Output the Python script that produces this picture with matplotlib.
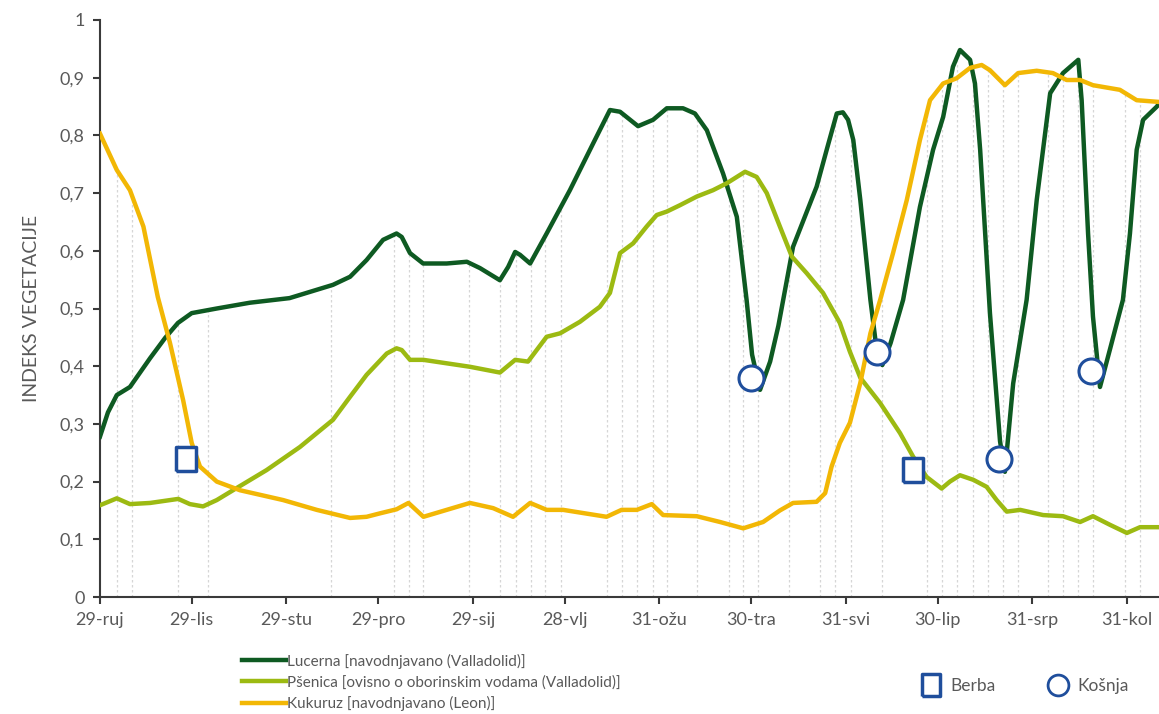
import numpy as np
import matplotlib
matplotlib.use("Agg")
import matplotlib.pyplot as plt
from matplotlib.lines import Line2D

plt.rcParams['font.family'] = ['Lato', 'DejaVu Sans']

# x in days since 29 Sep
tick_days = [0, 30, 61, 91, 122, 152, 183, 213, 244, 274, 305, 336]
tick_labels = ['29-ruj', '29-lis', '29-stu', '29-pro', '29-sij', '28-vlj',
               '31-ožu', '30-tra', '31-svi', '30-lip', '31-srp', '31-kol']

# Dates of observations (drop lines)
obs_days = [5.5, 10.6, 25.6, 35.4, 75.6, 96.2, 101.1, 105.8, 120.8, 130.8, 136.0,
            140.9, 145.6, 150.9, 165.7, 170.6, 175.8, 180.8, 185.4, 195.2, 205.9,
            210.4, 215.3, 225.5, 235.5, 240.4, 245.6, 255.7, 270.4, 275.3, 280.4,
            285.7, 290.6, 295.5, 300.4, 310.2, 315.1, 320.0, 324.9, 335.3, 340.2]

lucerna_x = [0, 2.6, 5.5, 9.8, 16.4, 21.3, 25.5, 30, 38.2, 49, 62, 76.2, 81.8, 87.2,
             92.6, 97, 98.7, 101.4, 105.7, 113.4, 120, 124.3, 130.8, 133.5, 135.8,
             137.4, 140.7, 146.1, 153.7, 161.3, 166.8, 170.1, 176, 180.9, 185.4,
             190.7, 194.6, 198.5, 203.8, 208.3, 211.5, 213.3, 215.9, 219.2, 221.9,
             226.7, 234.4, 237.7, 241, 243, 244.7, 246.4, 248.7, 252, 254, 255.9,
             258.6, 262.7, 268.2, 272.5, 275.8, 279, 281.3, 284.6, 286.2, 287.9,
             291.1, 294.4, 296, 298.7, 303.1, 306.4, 310.8, 315, 320, 321.1, 323.2,
             324.8, 327.1, 330.4, 334.6, 336.9, 339.1, 341.2, 345.7, 346.4]
lucerna_y = [0.278, 0.32, 0.35, 0.364, 0.414, 0.449, 0.475, 0.492, 0.50, 0.51, 0.518,
             0.541, 0.555, 0.584, 0.619, 0.630, 0.624, 0.596, 0.578, 0.578, 0.581,
             0.570, 0.549, 0.572, 0.598, 0.593, 0.578, 0.630, 0.705, 0.786, 0.844,
             0.841, 0.816, 0.827, 0.847, 0.847, 0.838, 0.809, 0.734, 0.659, 0.515,
             0.42, 0.359, 0.408, 0.47, 0.607, 0.711, 0.775, 0.838, 0.840, 0.827,
             0.792, 0.688, 0.515, 0.43, 0.402, 0.44, 0.515, 0.676, 0.775, 0.832,
             0.919, 0.948, 0.931, 0.890, 0.775, 0.492, 0.27, 0.217, 0.37, 0.515,
             0.688, 0.873, 0.908, 0.931, 0.861, 0.630, 0.486, 0.364, 0.43, 0.515,
             0.630, 0.775, 0.827, 0.850, 0.855]

psenica_x = [0, 5.5, 9.8, 16.4, 25.6, 29.4, 33.7, 38.2, 43.5, 54.5, 65.4, 76.2, 81.8,
             87.2, 93.8, 97, 98.7, 101.4, 105.8, 113.4, 121, 130.8, 135.8, 140,
             146.1, 150.5, 157, 163.5, 166.8, 170.1, 174.4, 178.8, 182.1, 185.4,
             189.7, 195.2, 200.5, 205, 208.3, 211, 214.8, 218.1, 222.4, 226.3,
             231.2, 236.5, 242, 245.3, 248.7, 255.2, 261.7, 266, 270.4, 275.3, 278,
             281.3, 285.7, 290, 293.3, 296.6, 301, 308.5, 315, 320.6, 324.8, 330.4,
             335.9, 340.2, 346.4]
psenica_y = [0.159, 0.171, 0.161, 0.163, 0.170, 0.161, 0.157, 0.168, 0.185, 0.220,
             0.260, 0.307, 0.347, 0.385, 0.422, 0.431, 0.428, 0.411, 0.411, 0.405,
             0.399, 0.389, 0.411, 0.408, 0.451, 0.457, 0.477, 0.503, 0.527, 0.596,
             0.613, 0.642, 0.662, 0.668, 0.679, 0.694, 0.705, 0.717, 0.728, 0.737,
             0.728, 0.700, 0.642, 0.590, 0.561, 0.527, 0.475, 0.425, 0.38, 0.336,
             0.284, 0.243, 0.208, 0.188, 0.200, 0.211, 0.203, 0.191, 0.168, 0.148,
             0.151, 0.142, 0.140, 0.130, 0.140, 0.125, 0.111, 0.121, 0.121]

kukuruz_x = [0, 5.5, 9.8, 14.2, 18.9, 22.9, 27.2, 30, 32.7, 38.2, 45.8, 59.9, 70.9,
             81.8, 87.2, 91.6, 97, 100.9, 105.8, 113.4, 121, 128.6, 135.1, 140.7,
             146.1, 151.5, 165.7, 170.6, 175.6, 180.5, 184.2, 195.2, 202.8, 210.4,
             216.9, 222.4, 226.7, 234.4, 237.2, 239.3, 242, 245.3, 248.7, 252,
             255.2, 259.4, 263.9, 268.2, 271.5, 275.8, 280.2, 284.6, 288.4, 291.1,
             296, 300.3, 306.4, 311.7, 316.2, 320.6, 324.8, 333.6, 339.1, 346.4]
kukuruz_y = [0.803, 0.740, 0.705, 0.642, 0.52, 0.440, 0.341, 0.267, 0.226, 0.200,
             0.185, 0.168, 0.151, 0.137, 0.139, 0.145, 0.152, 0.163, 0.139, 0.151,
             0.163, 0.154, 0.139, 0.163, 0.151, 0.151, 0.139, 0.151, 0.151, 0.161,
             0.142, 0.140, 0.130, 0.119, 0.130, 0.150, 0.163, 0.165, 0.180, 0.226,
             0.267, 0.302, 0.371, 0.457, 0.515, 0.596, 0.688, 0.792, 0.861, 0.890,
             0.899, 0.917, 0.922, 0.913, 0.887, 0.908, 0.912, 0.908, 0.896, 0.896,
             0.887, 0.879, 0.861, 0.858]

berba_x = [28.1, 265.9]
berba_y = [0.239, 0.22]
kosnja_x = [212.9, 254.1, 294.2, 324.1]
kosnja_y = [0.38, 0.425, 0.239, 0.392]

C_LUC = '#0e5a22'
C_PSE = '#9cba12'
C_KUK = '#f2b705'
C_MRK = '#1f4e9c'
C_TXT = '#595959'

fig = plt.figure(figsize=(11.59, 7.14), dpi=100)
ax = fig.add_axes([100/1159, 117/714, 1059/1159, 577/714])

# drop lines
tops = np.maximum.reduce([np.interp(obs_days, lucerna_x, lucerna_y),
                          np.interp(obs_days, psenica_x, psenica_y),
                          np.interp(obs_days, kukuruz_x, kukuruz_y)])
ax.vlines(obs_days, 0, tops, colors='#d6d6d6', linestyles=(0, (2, 2)), linewidth=0.9, zorder=1)

ax.plot(lucerna_x, lucerna_y, color=C_LUC, lw=3.2, solid_joinstyle='round', zorder=3)
ax.plot(psenica_x, psenica_y, color=C_PSE, lw=3.2, solid_joinstyle='round', zorder=3)
ax.plot(kukuruz_x, kukuruz_y, color=C_KUK, lw=3.2, solid_joinstyle='round', zorder=3)

rect = [(-0.83, -1), (0.83, -1), (0.83, 1), (-0.83, 1), (-0.83, -1)]
ax.plot(berba_x, berba_y, ls='none', marker=rect, ms=17, mfc='white', mec=C_MRK, mew=2.5, zorder=4)
ax.plot(kosnja_x, kosnja_y, ls='none', marker='o', ms=18, mfc='white', mec=C_MRK, mew=2.2, zorder=4)

ax.set_xlim(0, 346.4)
ax.set_ylim(0, 1)
ax.set_xticks(tick_days)
ax.set_xticklabels(tick_labels)
yt = np.round(np.arange(0, 1.01, 0.1), 1)
ax.set_yticks(yt)
ax.set_yticklabels(['0' if v == 0 else ('1' if v == 1 else ('%.1f' % v).replace('.', ',')) for v in yt])
for s in ['top', 'right']:
    ax.spines[s].set_visible(False)
for s in ['left', 'bottom']:
    ax.spines[s].set_color('#3a3a3a')
    ax.spines[s].set_linewidth(1.5)
ax.tick_params(axis='both', direction='out', length=5, width=1.5, color='#3a3a3a',
               labelsize=13, labelcolor=C_TXT, pad=6)
ax.set_ylabel('INDEKS VEGETACIJE', fontsize=14, color=C_TXT, labelpad=14)

h1 = Line2D([], [], color=C_LUC, lw=3.2)
h2 = Line2D([], [], color=C_PSE, lw=3.2)
h3 = Line2D([], [], color=C_KUK, lw=3.2)
fig.legend([h1, h2, h3],
           ['Lucerna [navodnjavano (Valladolid)]',
            'Pšenica [ovisno o oborinskim vodama (Valladolid)]',
            'Kukuruz [navodnjavano (Leon)]'],
           loc='upper left', bbox_to_anchor=(234/1159, 1 - 646/714), frameon=False,
           fontsize=11, handlelength=2.9, handletextpad=0.1, labelspacing=0.42,
           borderpad=0, labelcolor=C_TXT)
hb = Line2D([], [], ls='none', marker=rect, ms=16, mfc='white', mec=C_MRK, mew=2.5)
hk = Line2D([], [], ls='none', marker='o', ms=15, mfc='white', mec=C_MRK, mew=2.0)
fig.legend([hb, hk], ['Berba', 'Košnja'], loc='center left',
           bbox_to_anchor=(912/1159, 1 - 686/714), frameon=False, ncol=2,
           fontsize=12.5, handlelength=1.2, handletextpad=0.5, columnspacing=3.0,
           borderpad=0, labelcolor=C_TXT)

fig.savefig('out.png', dpi=100)
